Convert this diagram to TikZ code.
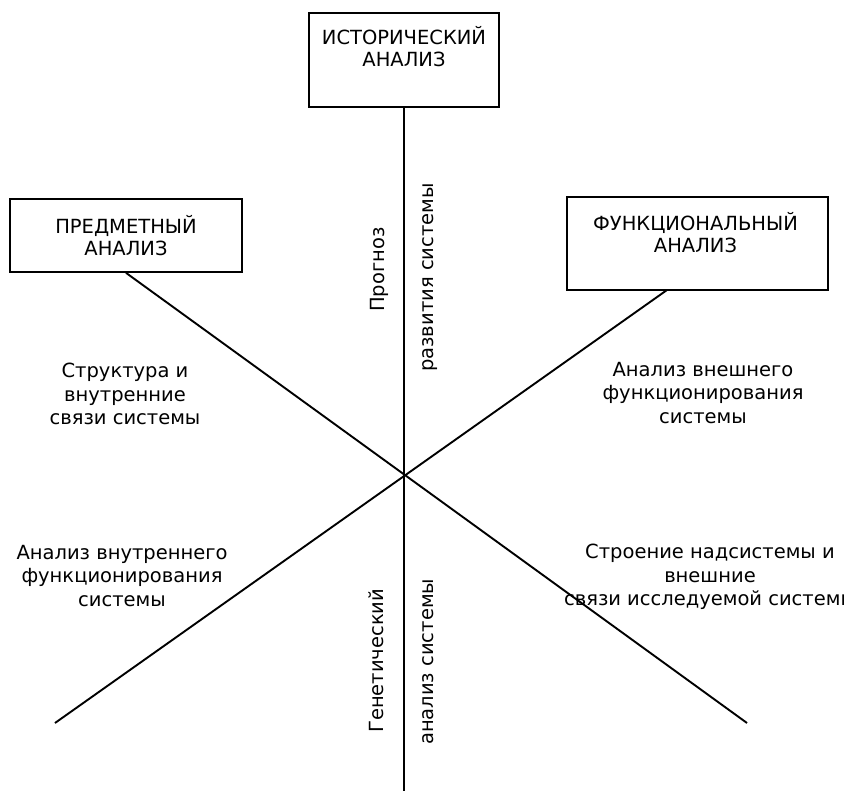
\documentclass[tikz,border=0pt]{standalone}
\usepackage{fontspec}
\setmainfont{DejaVu Sans}
\usetikzlibrary{positioning}
\tikzstyle{box} = [draw=black, line width=1.7pt, rectangle]
\tikzstyle{boxtxt} = [align=center, inner sep=0pt, font=\fontsize{19.5}{22}\selectfont]
\tikzstyle{lbl} = [align=center, inner sep=0pt]
\tikzstyle{vlbl} = [rotate=90, anchor=west, inner sep=0pt]
\tikzstyle{axis} = [line width=1.9pt, draw=black]

\begin{document}
\begin{tikzpicture}[x=1pt, y=-1pt, font=\fontsize{19.5}{23.5}\selectfont, text=black]
        \useasboundingbox (0,0) rectangle (844,795);

        % the three kinds of analysis
        \node (hist) [box, minimum width=190pt, minimum height=94pt] at (404,60) {};
        \node (subj) [box, minimum width=232pt, minimum height=73pt] at (126,235.5) {};
        \node (func) [box, minimum width=261pt, minimum height=93pt] at (697.5,243.5) {};
        \node (histtxt) [boxtxt] at (404,47) {ИСТОРИЧЕСКИЙ\\АНАЛИЗ};
        \node (subjtxt) [boxtxt] at (126,236) {ПРЕДМЕТНЫЙ\\АНАЛИЗ};
        \node (functxt) [boxtxt] at (695.5,233) {ФУНКЦИОНАЛЬНЫЙ\\АНАЛИЗ};

        % axes
        \coordinate (bot) at (404,791);
        \coordinate (funcfoot) at (667,290);
        \coordinate (sw) at (55,723);
        \coordinate (se) at (747,723);
        \draw[axis] (hist.south) -- (bot);
        \draw[axis] (subj.south) -- (se);
        \draw[axis] (funcfoot) -- (sw);

        % sectors
        \node (struct) [lbl] at (125,394) {Структура и\\внутренние\\связи системы};
        \node (extfunc) [lbl] at (703,393) {Анализ внешнего\\функционирования\\системы};
        \node (intfunc) [lbl] at (122,576) {Анализ внутреннего\\функционирования\\системы};
        \node (supsys) [lbl] at (710,577) {Строение надсистемы и\\внешние\\связи исследуемой системы};

        % along the vertical axis
        \node (prog) [vlbl] at (379,312) {Прогноз};
        \node (razv) [vlbl] at (430,372) {развития системы};
        \node (gen) [vlbl] at (376,733) {Генетический};
        \node (genan) [vlbl] at (428,745) {анализ системы};

    \end{tikzpicture}
\end{document}
